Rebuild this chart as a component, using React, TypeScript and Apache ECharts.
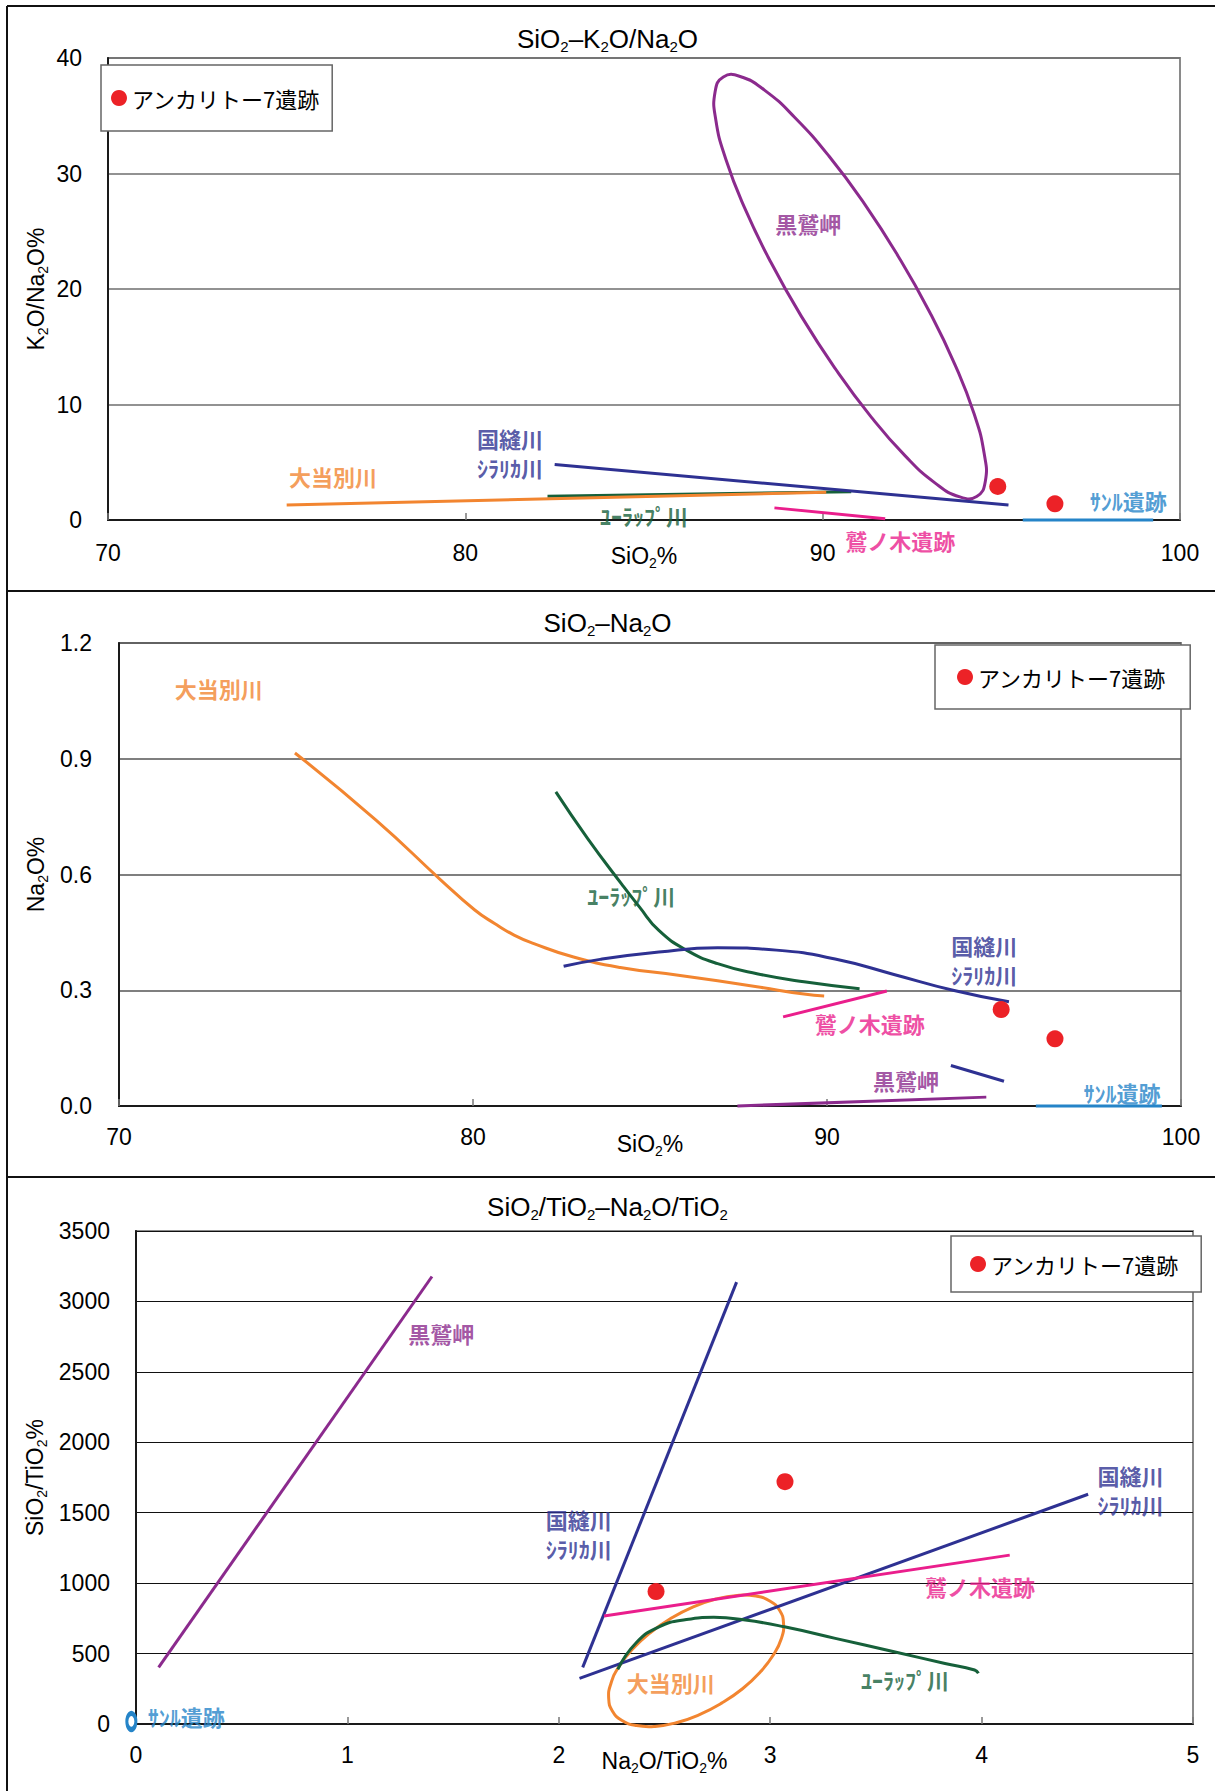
import React, { useEffect, useRef } from "react";
import * as echarts from "echarts";

// ---------- Panel 1: SiO2 (%) vs K2O/Na2O (%) ----------
const p1XTicks = [70, 80, 90, 100];
const p1YTicks = [0, 10, 20, 30, 40];
const p1Yurappu = [[82.3, 2.05], [90.8, 2.45]];
const p1Daitobetsu = [[75.0, 1.3], [90.1, 2.4]];
const p1Kununui = [[82.5, 4.8], [95.2, 1.3]];
const p1Washinoki = [[88.65, 1.05], [91.75, 0.1]];
const p1Sanru = [[95.6, 0], [99.25, 0]];
// outline of the 黒鷲岬 field (closed loop)
const p1Kurowashi = [
  [87.22, 38.36], [87.69, 38.4], [88.38, 37.2], [89.22, 34.85], [90.18, 31.49], [91.17, 27.37],
  [92.13, 22.75], [93.0, 17.97], [93.72, 13.33], [94.24, 9.17], [94.52, 5.75], [94.55, 3.32],
  [94.31, 2.04], [93.84, 2.0], [93.15, 3.19], [92.31, 5.55], [91.36, 8.91], [90.37, 13.03],
  [89.4, 17.65], [88.53, 22.43], [87.81, 27.06], [87.29, 31.23], [87.01, 34.64], [86.99, 37.08],
];
const p1Ankaritou = [[94.9, 2.9], [96.5, 1.4]];

// ---------- Panel 2: SiO2 (%) vs Na2O (%) ----------
const p2XTicks = [70, 80, 90, 100];
const p2YTicks = [0, 0.3, 0.6, 0.9, 1.2];
const p2Daitobetsu = [
  [74.97, 0.915], [77.26, 0.741], [79.1, 0.585], [80.05, 0.508], [80.61, 0.473], [81.16, 0.443],
  [81.72, 0.421], [82.84, 0.386], [84.16, 0.359], [85.8, 0.339], [88.02, 0.309], [89.35, 0.29],
  [89.92, 0.285],
];
const p2Yurappu = [
  [82.34, 0.814], [83.24, 0.693], [84.2, 0.575], [84.7, 0.516], [85.25, 0.455], [86.03, 0.404],
  [86.91, 0.369], [88.02, 0.343], [89.35, 0.322], [90.92, 0.304],
];
const p2Kununui = [
  [82.56, 0.362], [83.59, 0.38], [85.25, 0.399], [86.91, 0.41], [88.57, 0.404], [90.23, 0.381],
  [91.89, 0.341], [93.56, 0.3], [95.14, 0.27],
];
const p2KununuiLow = [[93.5, 0.105], [95.0, 0.064]];
const p2Washinoki = [[88.76, 0.231], [91.69, 0.298]];
const p2Kurowashi = [[87.47, 0.0], [94.5, 0.023]];
const p2Sanru = [[95.9, 0], [99.46, 0]];
const p2Ankaritou = [[94.92, 0.25], [96.44, 0.174]];

// ---------- Panel 3: Na2O/TiO2 (%) vs SiO2/TiO2 (%) ----------
const p3XTicks = [0, 1, 2, 3, 4, 5];
const p3YTicks = [0, 500, 1000, 1500, 2000, 2500, 3000, 3500];
// outline of the 大当別川 field (closed loop)
const p3Daitobetsu = [
  [3.045, 806], [3.063, 716], [3.053, 607], [3.014, 488], [2.952, 367], [2.869, 250],
  [2.77, 148], [2.663, 65], [2.556, 9], [2.455, -17], [2.368, -11], [2.299, 25],
  [2.254, 91], [2.236, 181], [2.247, 289], [2.285, 409], [2.348, 530], [2.431, 646],
  [2.529, 749], [2.636, 832], [2.743, 887], [2.844, 913], [2.932, 908], [3.0, 872],
];
const p3KununuiSteep = [[2.113, 402], [2.841, 3137]];
const p3KununuiShallow = [[2.098, 324], [4.504, 1631]];
const p3Yurappu = [
  [2.279, 388], [2.363, 572], [2.474, 690], [2.604, 742], [2.733, 757], [2.882, 738],
  [3.067, 690], [3.308, 608], [3.586, 513], [3.827, 430], [3.967, 383], [3.985, 360],
];
const p3Washinoki = [[2.214, 766], [4.133, 1199]];
const p3Kurowashi = [[0.107, 402], [1.4, 3177]];
const p3Sanru = [[-0.022, 18]];
const p3Ankaritou = [[2.46, 940], [3.07, 1720]];

// ---------- annotation texts (anchored in data units) ----------
const p1Notes = [
  { key: "kurowashi", text: "黒鷲岬", at: [89.6, 25.7] },
  { key: "kununui", text: "国縫川", at: [81.25, 7.09] },
  { key: "kununui", text: "ｼﾗﾘｶ川", at: [81.25, 4.56] },
  { key: "daitobetsu", text: "大当別川", at: [76.3, 3.85] },
  { key: "yurappu", text: "ﾕｰﾗｯﾌﾟ川", at: [85.0, 0.4] },
  { key: "washinoki", text: "鷲ノ木遺跡", at: [92.17, -1.7] },
  { key: "sanru", text: "ｻﾝﾙ遺跡", at: [98.55, 1.76] },
];
const p2Notes = [
  { key: "daitobetsu", text: "大当別川", at: [72.82, 1.083] },
  { key: "yurappu", text: "ﾕｰﾗｯﾌﾟ川", at: [84.47, 0.547] },
  { key: "kununui", text: "国縫川", at: [94.44, 0.417] },
  { key: "kununui", text: "ｼﾗﾘｶ川", at: [94.44, 0.342] },
  { key: "washinoki", text: "鷲ノ木遺跡", at: [91.21, 0.214] },
  { key: "kurowashi", text: "黒鷲岬", at: [92.23, 0.067] },
  { key: "sanru", text: "ｻﾝﾙ遺跡", at: [98.33, 0.036] },
];
const p3Notes = [
  { key: "kurowashi", text: "黒鷲岬", at: [1.444, 2773] },
  { key: "kununui", text: "国縫川", at: [2.094, 1453] },
  { key: "kununui", text: "ｼﾗﾘｶ川", at: [2.094, 1249] },
  { key: "kununui", text: "国縫川", at: [4.704, 1765] },
  { key: "kununui", text: "ｼﾗﾘｶ川", at: [4.704, 1561] },
  { key: "washinoki", text: "鷲ノ木遺跡", at: [3.992, 979] },
  { key: "yurappu", text: "ﾕｰﾗｯﾌﾟ川", at: [3.638, 319] },
  { key: "daitobetsu", text: "大当別川", at: [2.53, 298] },
  { key: "sanru", text: "ｻﾝﾙ遺跡", at: [0.238, 57] },
];

const LEGEND_NAME = "アンカリトー7遺跡";

const COLORS: Record<string, string> = {
  daitobetsu: "#f28530",
  yurappu: "#16603a",
  kununui: "#2e3192",
  washinoki: "#ea1e8c",
  kurowashi: "#8b2a8d",
  sanru: "#2584c8",
  ankari: "#ec2227",
};

const FONT_LATIN = '"Liberation Sans", Arial, sans-serif';
const FONT_JP = '"Noto Sans CJK JP", "Noto Sans CJK SC", sans-serif';

const mkRich = (size: number, subSize: number, pad: number) => ({
  n: { fontSize: size, fontFamily: FONT_LATIN, color: "#000", fontWeight: "normal" },
  s: { fontSize: subSize, fontFamily: FONT_LATIN, color: "#000", fontWeight: "normal", padding: [pad, 0, 0, 0] },
});
const chem = (parts: string[]) =>
  parts.map((p, i) => (i % 2 === 0 ? (p ? `{n|${p}}` : "") : `{s|${p}}`)).join("");

const line = (data: number[][], key: string, idx: number, smooth = false) => ({
  type: "line",
  name: key,
  data,
  xAxisIndex: idx,
  yAxisIndex: idx,
  symbol: "none",
  showSymbol: false,
  smooth,
  clip: false,
  silent: true,
  lineStyle: { color: COLORS[key], width: 3 },
  itemStyle: { color: COLORS[key] },
});

// closed smooth outline drawn through the axes' scales
const loop = (data: number[][], key: string, idx: number) => ({
  type: "custom",
  name: key + "-loop",
  xAxisIndex: idx,
  yAxisIndex: idx,
  data,
  encode: { x: 0, y: 1 },
  silent: true,
  clip: false,
  renderItem: (params: any, api: any) => {
    if (params.dataIndex !== 0) return { type: "group", children: [] };
    const pts = data.map((d) => api.coord(d));
    return {
      type: "polygon",
      shape: { points: pts, smooth: 0.5 },
      style: { fill: "none", stroke: COLORS[key], lineWidth: 3 },
    };
  },
});

const dots = (data: number[][], idx: number) => ({
  type: "scatter",
  name: LEGEND_NAME,
  data,
  xAxisIndex: idx,
  yAxisIndex: idx,
  symbol: "circle",
  symbolSize: 17,
  itemStyle: { color: COLORS.ankari, opacity: 1 },
  z: 5,
  silent: true,
});

const ring = (data: number[][], key: string, idx: number) => ({
  type: "scatter",
  name: key + "-ring",
  data,
  xAxisIndex: idx,
  yAxisIndex: idx,
  symbol: "circle",
  symbolSize: [9, 16],
  clip: false,
  silent: true,
  z: 4,
  itemStyle: { color: "rgba(0,0,0,0)", borderColor: COLORS[key], borderWidth: 4, opacity: 1 },
});

const notes = (list: { key: string; text: string; at: number[] }[], idx: number) => ({
  type: "scatter",
  name: "notes" + idx,
  xAxisIndex: idx,
  yAxisIndex: idx,
  symbolSize: 1,
  clip: false,
  silent: true,
  z: 6,
  itemStyle: { color: "rgba(0,0,0,0)" },
  data: list.map((n) => ({
    name: n.text,
    value: n.at,
    label: { color: COLORS[n.key] },
  })),
  label: {
    show: true,
    position: "inside",
    formatter: "{b}",
    fontSize: 22,
    fontWeight: "bold",
    fontFamily: FONT_JP,
    align: "center",
    textBorderWidth: 0,
  },
});

const xAxis = (i: number, ticks: number[], nameParts: string[], margin: number, nameGap: number) => ({
  type: "value",
  gridIndex: i,
  min: ticks[0],
  max: ticks[ticks.length - 1],
  interval: ticks[1] - ticks[0],
  axisLine: { show: true, onZero: false, lineStyle: { color: "#1a1a1a", width: 2 } },
  axisTick: { show: true, inside: true, length: 7, lineStyle: { color: "#777", width: 1.5 } },
  axisLabel: { margin, fontSize: 23, fontFamily: FONT_LATIN, color: "#000" },
  splitLine: { show: false },
  name: chem(nameParts),
  nameLocation: "middle",
  nameGap,
  nameMoveOverlap: false,
  nameTextStyle: { rich: mkRich(23, 14, 14) },
});

const yAxis = (
  i: number,
  ticks: number[],
  nameParts: string[],
  margin: number,
  nameGap: number,
  gridColor: string,
  gridWidth: number,
  fmt: (v: number) => string
) => ({
  type: "value",
  gridIndex: i,
  min: ticks[0],
  max: ticks[ticks.length - 1],
  interval: ticks[1] - ticks[0],
  axisLine: { show: true, onZero: false, lineStyle: { color: "#1a1a1a", width: 2 } },
  axisTick: { show: false },
  axisLabel: { margin, fontSize: 23, fontFamily: FONT_LATIN, color: "#000", formatter: fmt },
  splitLine: { show: true, lineStyle: { color: gridColor, width: gridWidth } },
  name: chem(nameParts),
  nameLocation: "middle",
  nameRotate: 90,
  nameGap,
  nameMoveOverlap: false,
  nameTextStyle: { rich: mkRich(23, 14, 14) },
});

export default function App() {
  const ref = useRef<HTMLDivElement>(null);

  useEffect(() => {
    document.body.style.margin = "0";
    if (!ref.current) return;
    const chart = echarts.init(ref.current, null, { renderer: "svg" });

    const legendBase = {
      data: [{ name: LEGEND_NAME, icon: "circle" }],
      itemWidth: 16,
      itemHeight: 16,
      selectedMode: false,
      borderColor: "#666",
      borderWidth: 1.5,
      borderRadius: 0,
      backgroundColor: "#fff",
      orient: "horizontal",
      textStyle: { fontSize: 22, fontFamily: FONT_JP, color: "#000" },
    };

    const titleRich = mkRich(26, 15, 16);
    const titleStyle = { rich: titleRich, fontWeight: "normal", fontSize: 26 };

    const option: any = {
      animation: false,
      backgroundColor: "#fff",
      title: [
        { text: chem(["SiO", "2", "–K", "2", "O/Na", "2", "O"]), left: "center", top: 18, textStyle: titleStyle },
        { text: chem(["SiO", "2", "–Na", "2", "O"]), left: "center", top: 602, textStyle: titleStyle },
        {
          text: chem(["SiO", "2", "/TiO", "2", "–Na", "2", "O/TiO", "2"]),
          left: "center",
          top: 1186,
          textStyle: titleStyle,
        },
      ],
      legend: [
        { ...legendBase, left: 101, top: 65, padding: [22, 12, 22, 10] },
        { ...legendBase, left: 935, top: 645, padding: [21, 24, 21, 22] },
        { ...legendBase, left: 951, top: 1236, padding: [17, 22, 17, 19] },
      ],
      grid: [
        { left: 108, top: 58, width: 1072, height: 462, show: true, borderColor: "#8a8a8a", borderWidth: 2, backgroundColor: "rgba(0,0,0,0)" },
        { left: 119, top: 643, width: 1062, height: 463, show: true, borderColor: "#8a8a8a", borderWidth: 2, backgroundColor: "rgba(0,0,0,0)" },
        { left: 136, top: 1231, width: 1057, height: 493, show: true, borderColor: "#8a8a8a", borderWidth: 2, backgroundColor: "rgba(0,0,0,0)" },
      ],
      xAxis: [
        xAxis(0, p1XTicks, ["SiO", "2", "%"], 21, 22),
        xAxis(1, p2XTicks, ["SiO", "2", "%"], 19, 24),
        xAxis(2, p3XTicks, ["Na", "2", "O/TiO", "2", "%"], 19, 23),
      ],
      yAxis: [
        yAxis(0, p1YTicks, ["K", "2", "O/Na", "2", "O%"], 26, 58, "#6e6e6e", 1.5, (v: number) => String(v)),
        yAxis(1, p2YTicks, ["Na", "2", "O%"], 27, 69, "#555", 1.5, (v: number) => v.toFixed(1)),
        yAxis(2, p3YTicks, ["SiO", "2", "/TiO", "2", "%"], 26, 87, "#111", 1, (v: number) => String(v)),
      ],
      graphic: [
        { type: "line", shape: { x1: 7, y1: 6, x2: 1215, y2: 6 }, style: { stroke: "#111", lineWidth: 2 } },
        { type: "line", shape: { x1: 7, y1: 6, x2: 7, y2: 1791 }, style: { stroke: "#111", lineWidth: 2 } },
        { type: "line", shape: { x1: 7, y1: 591, x2: 1215, y2: 591 }, style: { stroke: "#111", lineWidth: 2 } },
        { type: "line", shape: { x1: 7, y1: 1177, x2: 1215, y2: 1177 }, style: { stroke: "#111", lineWidth: 2 } },
      ],
      series: [
        // panel 1
        line(p1Yurappu, "yurappu", 0),
        line(p1Daitobetsu, "daitobetsu", 0),
        line(p1Kununui, "kununui", 0),
        line(p1Washinoki, "washinoki", 0),
        line(p1Sanru, "sanru", 0),
        loop(p1Kurowashi, "kurowashi", 0),
        dots(p1Ankaritou, 0),
        notes(p1Notes, 0),
        // panel 2
        line(p2Daitobetsu, "daitobetsu", 1, true),
        line(p2Yurappu, "yurappu", 1, true),
        line(p2Kununui, "kununui", 1, true),
        line(p2KununuiLow, "kununui", 1),
        line(p2Washinoki, "washinoki", 1),
        line(p2Kurowashi, "kurowashi", 1),
        line(p2Sanru, "sanru", 1),
        dots(p2Ankaritou, 1),
        notes(p2Notes, 1),
        // panel 3
        loop(p3Daitobetsu, "daitobetsu", 2),
        line(p3KununuiSteep, "kununui", 2),
        line(p3KununuiShallow, "kununui", 2),
        line(p3Yurappu, "yurappu", 2, true),
        line(p3Washinoki, "washinoki", 2),
        line(p3Kurowashi, "kurowashi", 2),
        ring(p3Sanru, "sanru", 2),
        dots(p3Ankaritou, 2),
        notes(p3Notes, 2),
      ],
    };

    chart.setOption(option);
    return () => chart.dispose();
  }, []);

  return <div ref={ref} style={{ width: 1215, height: 1791 }} />;
}
